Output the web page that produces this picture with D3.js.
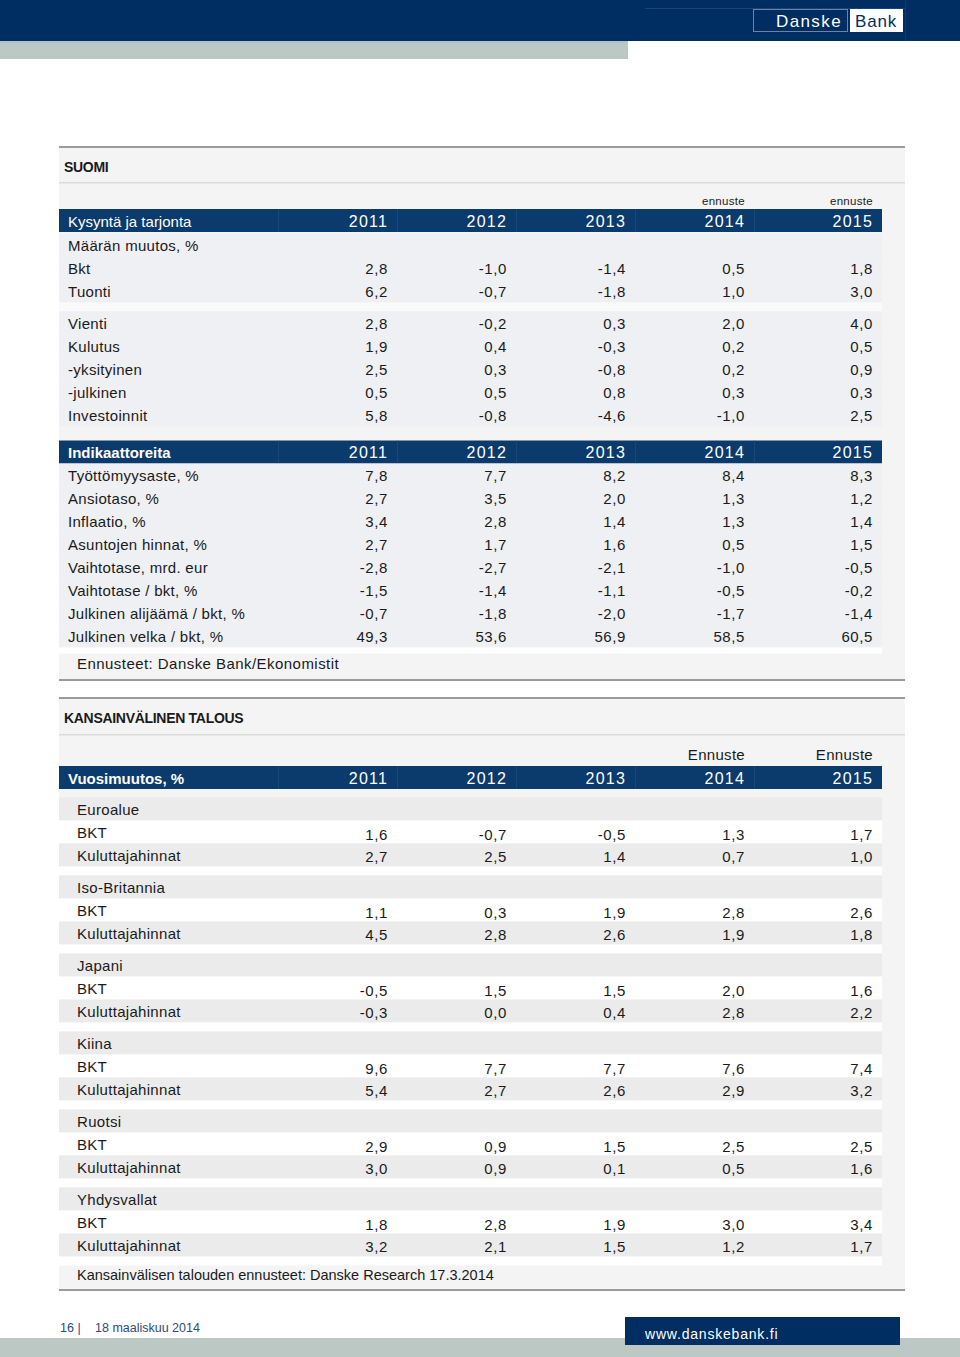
<!DOCTYPE html>
<html><head><meta charset="utf-8">
<script src="https://cdn.jsdelivr.net/npm/d3@7"></script>
<style>
html,body{margin:0;padding:0;background:#fff;}
svg{display:block;font-family:"Liberation Sans",Arial,sans-serif;}
</style></head>
<body>
<svg id="c" width="960" height="1357"></svg>
<script>
// ---------- DATA ----------
const years = ["2011","2012","2013","2014","2015"];
const suomiForecastMarks = ["","","","ennuste","ennuste"];
const intlForecastMarks = ["","","","Ennuste","Ennuste"];

const demandTitle = "Kysyntä ja tarjonta";
const demandSubtitle = "Määrän muutos, %";
const demandLabels1 = ["Bkt","Tuonti"];
const demandValues1 = [
  [2.8,-1.0,-1.4,0.5,1.8],
  [6.2,-0.7,-1.8,1.0,3.0]
];
const demandLabels2 = ["Vienti","Kulutus","-yksityinen","-julkinen","Investoinnit"];
const demandValues2 = [
  [2.8,-0.2,0.3,2.0,4.0],
  [1.9,0.4,-0.3,0.2,0.5],
  [2.5,0.3,-0.8,0.2,0.9],
  [0.5,0.5,0.8,0.3,0.3],
  [5.8,-0.8,-4.6,-1.0,2.5]
];

const indicatorTitle = "Indikaattoreita";
const indicatorLabels = ["Työttömyysaste, %","Ansiotaso, %","Inflaatio, %","Asuntojen hinnat, %",
  "Vaihtotase, mrd. eur","Vaihtotase / bkt, %","Julkinen alijäämä / bkt, %","Julkinen velka / bkt, %"];
const indicatorValues = [
  [7.8,7.7,8.2,8.4,8.3],
  [2.7,3.5,2.0,1.3,1.2],
  [3.4,2.8,1.4,1.3,1.4],
  [2.7,1.7,1.6,0.5,1.5],
  [-2.8,-2.7,-2.1,-1.0,-0.5],
  [-1.5,-1.4,-1.1,-0.5,-0.2],
  [-0.7,-1.8,-2.0,-1.7,-1.4],
  [49.3,53.6,56.9,58.5,60.5]
];
const suomiSource = "Ennusteet: Danske Bank/Ekonomistit";

const intlTitle = "Vuosimuutos, %";
const intlRegions = ["Euroalue","Iso-Britannia","Japani","Kiina","Ruotsi","Yhdysvallat"];
const intlMeasures = ["BKT","Kuluttajahinnat"];
const intlGdp = [
  [1.6,-0.7,-0.5,1.3,1.7],
  [1.1,0.3,1.9,2.8,2.6],
  [-0.5,1.5,1.5,2.0,1.6],
  [9.6,7.7,7.7,7.6,7.4],
  [2.9,0.9,1.5,2.5,2.5],
  [1.8,2.8,1.9,3.0,3.4]
];
const intlCpi = [
  [2.7,2.5,1.4,0.7,1.0],
  [4.5,2.8,2.6,1.9,1.8],
  [-0.3,0.0,0.4,2.8,2.2],
  [5.4,2.7,2.6,2.9,3.2],
  [3.0,0.9,0.1,0.5,1.6],
  [3.2,2.1,1.5,1.2,1.7]
];
const intlSource = "Kansainvälisen talouden ennusteet: Danske Research 17.3.2014";

const sectionTitles = ["SUOMI","KANSAINVÄLINEN TALOUS"];
const footerPage = "16 |";
const footerDate = "18 maaliskuu 2014";
const footerUrl = "www.danskebank.fi";

// ---------- STYLE / LAYOUT ----------
const NAVY = "#002d62", BAND = "#0b3a6c", GREYBAND = "#bbc8c3", PANEL = "#f4f4f4";
const TEXT = "#1a1a1a";
const loc = d3.formatLocale({decimal:",", thousands:" ", grouping:[3], currency:["",""], minus:"-"});
const fmt = loc.format(".1f");

const svg = d3.select("#c");
const x = d3.scaleOrdinal().domain(years).range([388,507,626,745,873]);
const sepX = [278,397,516,635,754];
const TL = 59, TR = 882;

// header bar
svg.append("rect").attr("x",0).attr("y",0).attr("width",960).attr("height",41).attr("fill",NAVY);
svg.append("line").attr("x1",645).attr("x2",905).attr("y1",8.5).attr("y2",8.5).attr("stroke","#1b4377").attr("stroke-width",1);
svg.append("line").attr("x1",905.5).attr("x2",905.5).attr("y1",0).attr("y2",41).attr("stroke","#0e3a6e").attr("stroke-width",1);
svg.append("rect").attr("x",0).attr("y",41).attr("width",628).attr("height",18).attr("fill",GREYBAND);
svg.append("rect").attr("x",0).attr("y",41).attr("width",628).attr("height",2).attr("fill","#b2c2cc");
svg.append("rect").attr("x",753.5).attr("y",9.5).attr("width",94).attr("height",22).attr("fill","none").attr("stroke","#6a84a6");
svg.append("text").attr("x",809).attr("y",27).attr("text-anchor","middle").attr("fill","#fff")
  .attr("font-size",17).attr("letter-spacing",1.4).text("Danske");
svg.append("rect").attr("x",850).attr("y",9).attr("width",53).attr("height",23).attr("fill","#fff");
svg.append("text").attr("x",876).attr("y",27).attr("text-anchor","middle").attr("fill",NAVY)
  .attr("font-size",17).attr("letter-spacing",0.8).text("Bank");

// panels
function panel(y0,y1,title,titleY,lineY){
  svg.append("rect").attr("x",TL).attr("y",y0).attr("width",846).attr("height",y1-y0).attr("fill",PANEL);
  svg.append("rect").attr("x",TL).attr("y",y0-1).attr("width",846).attr("height",2).attr("fill","#9b9b9b");
  svg.append("rect").attr("x",TL).attr("y",y1-1).attr("width",846).attr("height",2).attr("fill","#9b9b9b");
  svg.append("rect").attr("x",TL).attr("y",lineY).attr("width",846).attr("height",1.5).attr("fill","#dcdcdc");
  svg.append("text").attr("x",64).attr("y",titleY).attr("font-size",14).attr("font-weight","bold")
    .attr("fill",TEXT).attr("letter-spacing",-0.3).text(title);
}
panel(147,680,sectionTitles[0],172,182);
panel(698,1290,sectionTitles[1],723,734);

function headerBand(y, label, bold, marks, markSize, markY){
  svg.append("rect").attr("x",TL).attr("y",y).attr("width",TR-TL).attr("height",23).attr("fill",BAND);
  sepX.forEach(s=>svg.append("line").attr("x1",s+0.5).attr("x2",s+0.5).attr("y1",y).attr("y2",y+23)
    .attr("stroke","#244f80").attr("stroke-width",1).attr("opacity",0.6));
  svg.append("text").attr("x",68).attr("y",y+17.5).attr("fill","#fff").attr("font-size",15)
    .attr("font-weight",bold?"bold":"normal").text(label);
  svg.selectAll(null).data(years).enter().append("text")
    .attr("x",d=>x(d)).attr("y",y+17.5).attr("text-anchor","end").attr("fill","#fff")
    .attr("font-size",16).attr("letter-spacing",1.2).text(d=>d);
  if(marks){
    svg.selectAll(null).data(years).enter().append("text")
      .attr("x",d=>x(d)).attr("y",markY).attr("text-anchor","end").attr("fill",TEXT)
      .attr("font-size",markSize).attr("letter-spacing",0.3).text((d,i)=>marks[i]);
  }
}

function dataRow(y, label, vals, fill, labelX, valDy){
  svg.append("rect").attr("x",TL).attr("y",y).attr("width",TR-TL).attr("height",23).attr("fill",fill);
  svg.append("text").attr("x",labelX).attr("y",y+17).attr("font-size",15).attr("fill",TEXT)
    .attr("letter-spacing",0.3).text(label);
  if(vals){
    svg.selectAll(null).data(vals).enter().append("text")
      .attr("x",(d,i)=>x(years[i])).attr("y",y+17.5+(valDy||0)).attr("text-anchor","end")
      .attr("font-size",15).attr("fill",TEXT).attr("letter-spacing",0.6).text(d=>fmt(d));
  }
}

// SUOMI table
const ROW = "#eff0f4";
headerBand(209, demandTitle, false, suomiForecastMarks, 11.5, 205);
let y = 233.5;
dataRow(y, demandSubtitle, null, ROW, 68); y += 23;
demandLabels1.forEach((l,i)=>{ dataRow(y, l, demandValues1[i], ROW, 68); y += 23; });
svg.append("rect").attr("x",TL).attr("y",y).attr("width",TR-TL).attr("height",9).attr("fill","#fafafa");
y += 9;
demandLabels2.forEach((l,i)=>{ dataRow(y, l, demandValues2[i], ROW, 68); y += 23; });

headerBand(440.5, indicatorTitle, true, null);
y = 463.5;
indicatorLabels.forEach((l,i)=>{ dataRow(y, l, indicatorValues[i], ROW, 68); y += 23; });
svg.append("rect").attr("x",TL).attr("y",y).attr("width",TR-TL).attr("height",6).attr("fill","#fff");
svg.append("text").attr("x",77).attr("y",669).attr("font-size",15).attr("fill",TEXT).attr("letter-spacing",0.45).text(suomiSource);

// International table
headerBand(766, intlTitle, true, intlForecastMarks, 15, 759.5);
y = 797.5;
intlRegions.forEach((r,i)=>{
  dataRow(y, r, null, "#ebebeb", 77);
  dataRow(y+23, intlMeasures[0], intlGdp[i], "#ffffff", 77, 2);
  dataRow(y+46, intlMeasures[1], intlCpi[i], "#ebebeb", 77, 1);
  svg.append("rect").attr("x",TL).attr("y",y+69).attr("width",TR-TL).attr("height",9).attr("fill","#fff");
  y += 78;
});
svg.append("text").attr("x",77).attr("y",1280).attr("font-size",14.5).attr("fill",TEXT).attr("letter-spacing",0).text(intlSource);

// footer
svg.append("rect").attr("x",0).attr("y",1338).attr("width",960).attr("height",19).attr("fill",GREYBAND);
svg.append("rect").attr("x",625).attr("y",1317).attr("width",275).attr("height",28).attr("fill",NAVY);
svg.append("text").attr("x",645).attr("y",1339).attr("font-size",14).attr("fill","#fff").attr("letter-spacing",0.8).text(footerUrl);
svg.append("text").attr("x",60).attr("y",1332).attr("font-size",12.5).attr("fill","#2c4a78").text(footerPage);
svg.append("text").attr("x",95).attr("y",1332).attr("font-size",12.5).attr("fill","#2c4a78").text(footerDate);
</script>
</body></html>
